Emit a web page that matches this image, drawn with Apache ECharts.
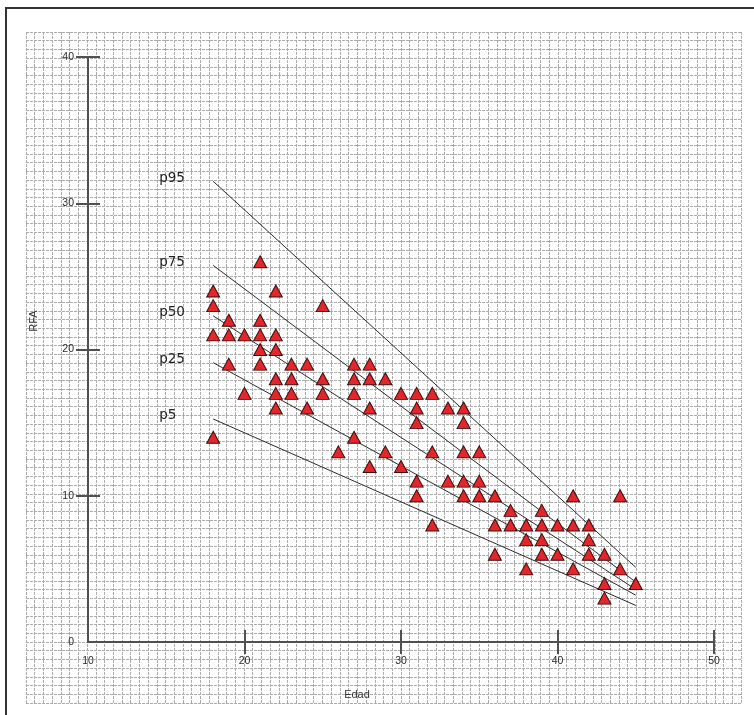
<!DOCTYPE html>
<html>
<head>
<meta charset="utf-8">
<script src="https://cdn.jsdelivr.net/npm/echarts@6/dist/echarts.min.js"></script>
<style>
html,body{margin:0;padding:0;background:#fff;}
#chart{width:754px;height:715px;}
</style>
</head>
<body>
<div id="chart"></div>
<script>
// ---- data ----
const ages = [18,18,18,18, 19,19,19, 20,20, 21,21,21,21,21, 22,22,22,22,22,22, 23,23,23, 24,24, 25,25,25, 26, 27,27,27,27, 28,28,28,28, 29,29, 30,30, 31,31,31,31,31, 32,32,32, 33,33, 34,34,34,34,34, 35,35,35, 36,36,36, 37,37, 38,38,38, 39,39,39,39, 40,40, 41,41,41, 42,42,42, 43,43,43, 44,44, 45];
const rfa  = [24,23,21,14, 22,21,19, 21,17, 26,22,21,20,19, 24,21,20,18,17,16, 19,18,17, 19,16, 23,18,17, 13, 19,18,17,14, 19,18,16,12, 18,13, 17,12, 17,16,15,11,10, 17,13,8, 16,11, 16,15,13,11,10, 13,11,10, 10,8,6, 9,8, 8,7,5, 9,8,7,6, 8,6, 10,8,5, 8,7,6, 6,4,3, 10,5, 4];
const pctNames = ['p95','p75','p50','p25','p5'];
const pctAgeRange = [18, 45];
const pctStart = [31.5, 25.75, 22.3, 19.1, 15.25];
const pctEnd   = [5.1, 4.1, 3.6, 3.2, 2.5];
const xTicks = [10, 20, 30, 40, 50];
const yTicks = [0, 10, 20, 30, 40];
const xTitle = 'Edad';
const yTitle = 'RFA';

const chart = echarts.init(document.getElementById('chart'), null, {renderer:'canvas'});

const axisColor = '#505050';
const gridColor = '#ababab';
const labelFont = {color:'#2a2a2a', fontSize:10.5, fontFamily:'Liberation Sans, Arial, sans-serif'};
const tickVals = (arr) => arr.slice(1);

const points = ages.map((a, i) => [a, rfa[i]]);
const lineSeries = pctNames.map((n, i) => ({
  name: n, type: 'line', xAxisIndex: 1, yAxisIndex: 1,
  data: [[pctAgeRange[0], pctStart[i]], [pctAgeRange[1], pctEnd[i]]],
  symbol: 'none', silent: true, z: 3,
  lineStyle: {color: '#2a2a2a', width: 1}
}));

const option = {
  animation: false,
  backgroundColor: '#fff',
  grid: [
    {left: 26, top: 32, width: 715, height: 671},
    {left: 88, top: 57, width: 626, height: 585}
  ],
  xAxis: [
    {gridIndex: 0, type: 'value', min: 0, max: 82, interval: 1,
     axisLine: {show:false}, axisTick: {show:false}, axisLabel: {show:false},
     splitLine: {show:true, lineStyle: {color: gridColor, type:[3,1], width:1}}},
    {gridIndex: 1, type: 'value', position: 'bottom', min: xTicks[0], max: xTicks[xTicks.length-1], interval: 10,
     axisLine: {show:true, lineStyle: {color: axisColor, width: 2}},
     axisTick: {show:true, inside:false, length:12, customValues: tickVals(xTicks), lineStyle:{color: axisColor, width: 2}},
     axisLabel: Object.assign({show:true, margin: 14}, labelFont),
     splitLine: {show:false}},
    {gridIndex: 1, type: 'value', position: 'bottom', min: xTicks[0], max: xTicks[xTicks.length-1], interval: 10,
     axisLine: {show:false},
     axisTick: {show:true, inside:true, length:12, customValues: tickVals(xTicks), lineStyle:{color: axisColor, width: 2}},
     axisLabel: {show:false}, splitLine: {show:false}}
  ],
  yAxis: [
    {gridIndex: 0, type: 'value', min: 0, max: 77, interval: 1,
     axisLine: {show:false}, axisTick: {show:false}, axisLabel: {show:false},
     splitLine: {show:true, lineStyle: {color: gridColor, type:[3,1], width:1}}},
    {gridIndex: 1, type: 'value', position: 'left', min: yTicks[0], max: yTicks[yTicks.length-1], interval: 10,
     axisLine: {show:true, lineStyle: {color: axisColor, width: 2}},
     axisTick: {show:true, inside:false, length:12, customValues: tickVals(yTicks), lineStyle:{color: axisColor, width: 2}},
     axisLabel: Object.assign({show:true, margin: 14}, labelFont),
     splitLine: {show:false}},
    {gridIndex: 1, type: 'value', position: 'left', min: yTicks[0], max: yTicks[yTicks.length-1], interval: 10,
     axisLine: {show:false},
     axisTick: {show:true, inside:true, length:12, customValues: tickVals(yTicks), lineStyle:{color: axisColor, width: 2}},
     axisLabel: {show:false}, splitLine: {show:false}}
  ],
  series: lineSeries.concat([{
    type: 'scatter', xAxisIndex: 1, yAxisIndex: 1, z: 4,
    symbol: 'triangle', symbolSize: [13, 12],
    itemStyle: {color: '#e3262a', borderColor: '#3a0c0c', borderWidth: 1, opacity: 1},
    data: points
  }])
};
chart.setOption(option);

// labels and frame
const graphics = [
  {type:'rect', shape:{x:6, y:8, width:800, height:800}, style:{fill:'none', stroke:'#333', lineWidth:2}, z:10, silent:true},
  {type:'text', x:33.5, y:321, rotation: Math.PI/2, z:10,
   style:{text: yTitle, fill:'#333', font:'11px "Liberation Sans", Arial, sans-serif', align:'center', verticalAlign:'middle'}},
  {type:'text', x:357, y:695, z:10,
   style:{text: xTitle, fill:'#333', font:'11px "Liberation Sans", Arial, sans-serif', align:'center', verticalAlign:'middle'}}
];
pctNames.forEach((n, i) => {
  const p = chart.convertToPixel({xAxisIndex:1, yAxisIndex:1}, [pctAgeRange[0], pctStart[i]]);
  graphics.push({type:'text', x: p[0] - 54, y: p[1] - 3, z:10,
    style:{text: n, fill:'#222', font:'13.5px "DejaVu Sans", sans-serif', align:'left', verticalAlign:'middle'}});
});
chart.setOption({graphic: graphics});
</script>
</body>
</html>
